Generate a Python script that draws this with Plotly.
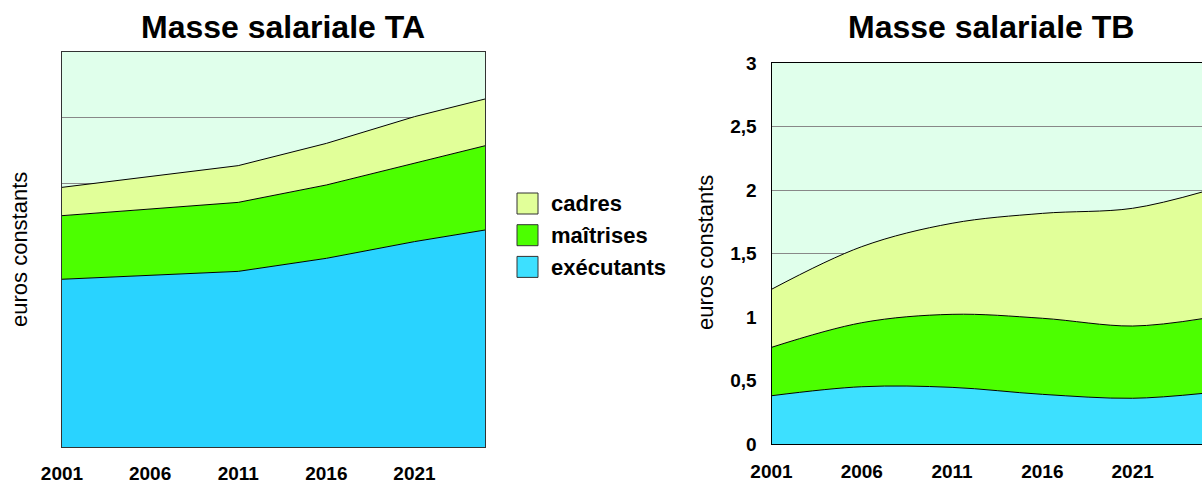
import plotly.graph_objects as go

# ---------------- data ----------------
years = [2001, 2006, 2011, 2016, 2021, 2025]
categories = ["cadres", "maîtrises", "exécutants"]

ta_executants = [1.274, 1.306, 1.334, 1.433, 1.560, 1.648]
ta_maitrises = [0.483, 0.499, 0.524, 0.557, 0.595, 0.640]
ta_cadres = [0.215, 0.248, 0.279, 0.316, 0.354, 0.355]

tb_executants = [0.380, 0.451, 0.446, 0.391, 0.360, 0.400]
tb_maitrises = [0.381, 0.504, 0.575, 0.599, 0.569, 0.590]
tb_cadres = [0.457, 0.599, 0.717, 0.826, 0.927, 1.000]

x_ticks = [2001, 2006, 2011, 2016, 2021]
y_ticks = [0, 0.5, 1, 1.5, 2, 2.5, 3]
y_tick_labels = ["0", "0,5", "1", "1,5", "2", "2,5", "3"]
titles = ["Masse salariale TA", "Masse salariale TB"]
y_title = "euros constants"

# ---------------- style ----------------
W, H = 1202, 484
FONT = "Liberation Sans, Arial, sans-serif"
BG = "#E0FFEB"
C_CADRES = "#E1FF99"
C_MAIT = "#4CFF00"
C_EXEC_A = "#29D3FF"
C_EXEC_B = "#3DE0FF"


def px(x):
    return x / W


def py(y):
    return 1 - y / H


fig = go.Figure()

series_a = [("exécutants", ta_executants, C_EXEC_A),
            ("maîtrises", ta_maitrises, C_MAIT),
            ("cadres", ta_cadres, C_CADRES)]
series_b = [("exécutants", tb_executants, C_EXEC_B),
            ("maîtrises", tb_maitrises, C_MAIT),
            ("cadres", tb_cadres, C_CADRES)]

for name, vals, col in series_a:
    fig.add_trace(go.Scatter(
        x=years, y=vals, name=name, stackgroup="ta", mode="lines",
        line=dict(color="black", width=1, shape="linear"),
        fillcolor=col, xaxis="x", yaxis="y", showlegend=False,
        hoverinfo="skip"))

for name, vals, col in series_b:
    fig.add_trace(go.Scatter(
        x=years, y=vals, name=name, stackgroup="tb", mode="lines",
        line=dict(color="black", width=1, shape="spline", smoothing=1),
        fillcolor=col, xaxis="x2", yaxis="y2", showlegend=False,
        hoverinfo="skip"))

tickfont = dict(family=FONT, size=19, color="black", weight="bold")

fig.update_layout(
    template="none",
    width=W, height=H,
    margin=dict(l=0, r=0, t=0, b=0, pad=0),
    paper_bgcolor="white",
    plot_bgcolor=BG,
    showlegend=False,
    font=dict(family=FONT, color="black"),
    xaxis=dict(domain=[px(62), px(485)], range=[2001, 2025],
               tickvals=x_ticks, tickfont=tickfont, ticks="",
               ticklabelstandoff=9, automargin=False,
               showgrid=False, zeroline=False, showline=True,
               linecolor="#333333", linewidth=1, mirror=True),
    yaxis=dict(domain=[py(447), py(52)], range=[0, 3],
               tickvals=y_ticks, showticklabels=False, ticks="",
               automargin=False,
               showgrid=True, gridcolor="#888888", gridwidth=1,
               zeroline=False, showline=True, linecolor="#333333",
               linewidth=1, mirror=True),
    xaxis2=dict(domain=[px(771.5), 1.0], range=[2001, 2024.84],
                tickvals=x_ticks, tickfont=tickfont, ticks="",
                ticklabelstandoff=10, anchor="y2", automargin=False,
                showgrid=False, zeroline=False, showline=True,
                linecolor="black", linewidth=1, mirror=True),
    yaxis2=dict(domain=[py(444), py(63)], range=[0, 3], anchor="x2",
                tickvals=y_ticks, ticktext=y_tick_labels,
                tickfont=tickfont, ticks="", ticklabelstandoff=10,
                automargin=False,
                showgrid=True, gridcolor="#888888", gridwidth=1,
                zeroline=False, showline=True, linecolor="black",
                linewidth=1, mirror=False),
)

annotations = []
# titles
for txt, cx in zip(titles, [282.5, 990.5]):
    annotations.append(dict(
        text=f"<b>{txt}</b>", x=px(cx), y=py(26.5), xref="paper", yref="paper",
        xanchor="center", yanchor="middle", showarrow=False,
        font=dict(family=FONT, size=32, color="black")))
# y titles
for cx, cy in [(20, 250), (705, 253)]:
    annotations.append(dict(
        text=y_title, x=px(cx), y=py(cy), xref="paper", yref="paper",
        xanchor="center", yanchor="middle", showarrow=False, textangle=-90,
        font=dict(family=FONT, size=22, color="black")))

# manual legend
legend_colors = {"cadres": C_CADRES, "maîtrises": C_MAIT, "exécutants": C_EXEC_B}
shapes = []
for i, cat in enumerate(categories):
    top = 193 + i * 31.7
    shapes.append(dict(
        type="rect", xref="paper", yref="paper",
        x0=px(517), x1=px(538), y0=py(top + 21), y1=py(top),
        fillcolor=legend_colors[cat], line=dict(color="#333333", width=1)))
    annotations.append(dict(
        text=f"<b>{cat}</b>", x=px(549), y=py(top + 11), xref="paper",
        yref="paper", xanchor="left", yanchor="middle", showarrow=False,
        font=dict(family=FONT, size=22, color="black")))

fig.update_layout(annotations=annotations, shapes=shapes)

fig.write_html("out.html")
